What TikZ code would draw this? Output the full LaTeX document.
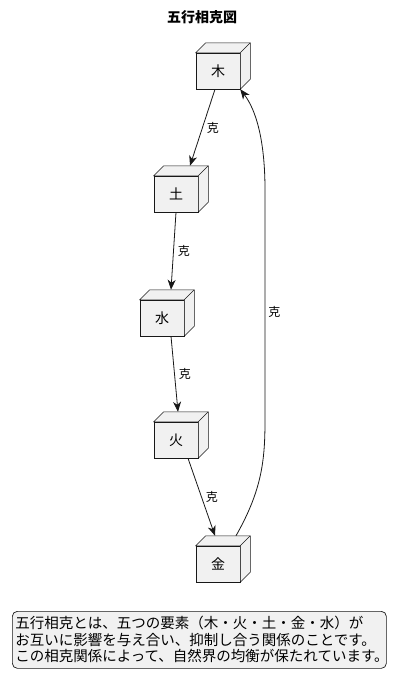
\documentclass[tikz,border=0pt]{standalone}
\usepackage{fontspec}
\setmainfont{Noto Sans CJK JP}
\usetikzlibrary{arrows.meta, positioning}
\definecolor{umlfill}{HTML}{F1F1F1}
\definecolor{umlline}{HTML}{181818}
\tikzset{
    elem/.style={rectangle, draw=umlline, fill=umlfill, line width=0.5pt,
                 minimum width=44pt, minimum height=36pt, inner sep=0pt,
                 font=\fontsize{14}{16}\selectfont},
    boxside/.style={draw=umlline, fill=umlfill, line width=0.5pt},
    rel/.style={-{Stealth[length=10pt, width=8pt, inset=3pt]}, draw=umlline, line width=0.8pt},
    rellbl/.style={font=\fontsize{12}{14}\selectfont, text=black, inner sep=2pt},
    notebox/.style={rectangle, rounded corners=5pt, draw=umlline, fill=umlfill,
                    line width=0.7pt, inner sep=3pt, text width=368pt, align=left,
                    minimum width=374pt, minimum height=57pt,
                    font=\fontsize{14.5}{16.5}\selectfont}
}

\begin{document}
\begin{tikzpicture}[x=1pt, y=-1pt]
\useasboundingbox (0,0) rectangle (404,688);

\node[font=\bfseries\fontsize{14}{16}\selectfont] at (202,17) (title) {五行相克図};

% five elements
\node[elem] at (218,71)  (moku) {木};
\node[elem] at (176,194) (do)   {土};
\node[elem] at (162,318) (sui)  {水};
\node[elem] at (176,440) (ka)   {火};
\node[elem] at (218,564) (kin)  {金};

% depth of the boxes
\foreach \n in {moku,do,sui,ka,kin} {
  \draw[boxside] (\n.north west) -- ++(10pt,10pt) -- ([shift={(10pt,10pt)}]\n.north east)
      -- ([shift={(10pt,10pt)}]\n.south east) -- (\n.south east) -- (\n.north east) -- cycle;
  \draw[boxside] (\n.north east) -- ++(10pt,10pt);
}

\draw[rel] ([xshift=-3pt]moku.south) -- node[rellbl, right=2pt] {克} ([shift={(14pt,10pt)}]do.north);
\draw[rel] (do.south) -- node[rellbl, right=2pt] {克} ([shift={(9pt,10pt)}]sui.north);
\draw[rel] ([xshift=9pt]sui.south) -- node[rellbl, right=2pt] {克} ([shift={(2pt,10pt)}]ka.north);
\draw[rel] ([xshift=12pt]ka.south) -- node[rellbl, right=2pt] {克} ([shift={(-3pt,10pt)}]kin.north);
\draw[rel] ([shift={(18pt,10pt)}]kin.north) .. controls (262,490) and (265,460) .. (265,420)
    -- node[rellbl, right=1pt, pos=0.47] {克} (265,190) .. controls (265,140) and (256,110) .. (moku.south east);

% note
\node[notebox, anchor=north west] at (12,611) (note)
  {五行相克とは、五つの要素（木・火・土・金・水）が\\
   お互いに影響を与え合い、抑制し合う関係のことです。\\
   この相克関係によって、自然界の均衡が保たれています。};
\end{tikzpicture}
\end{document}
